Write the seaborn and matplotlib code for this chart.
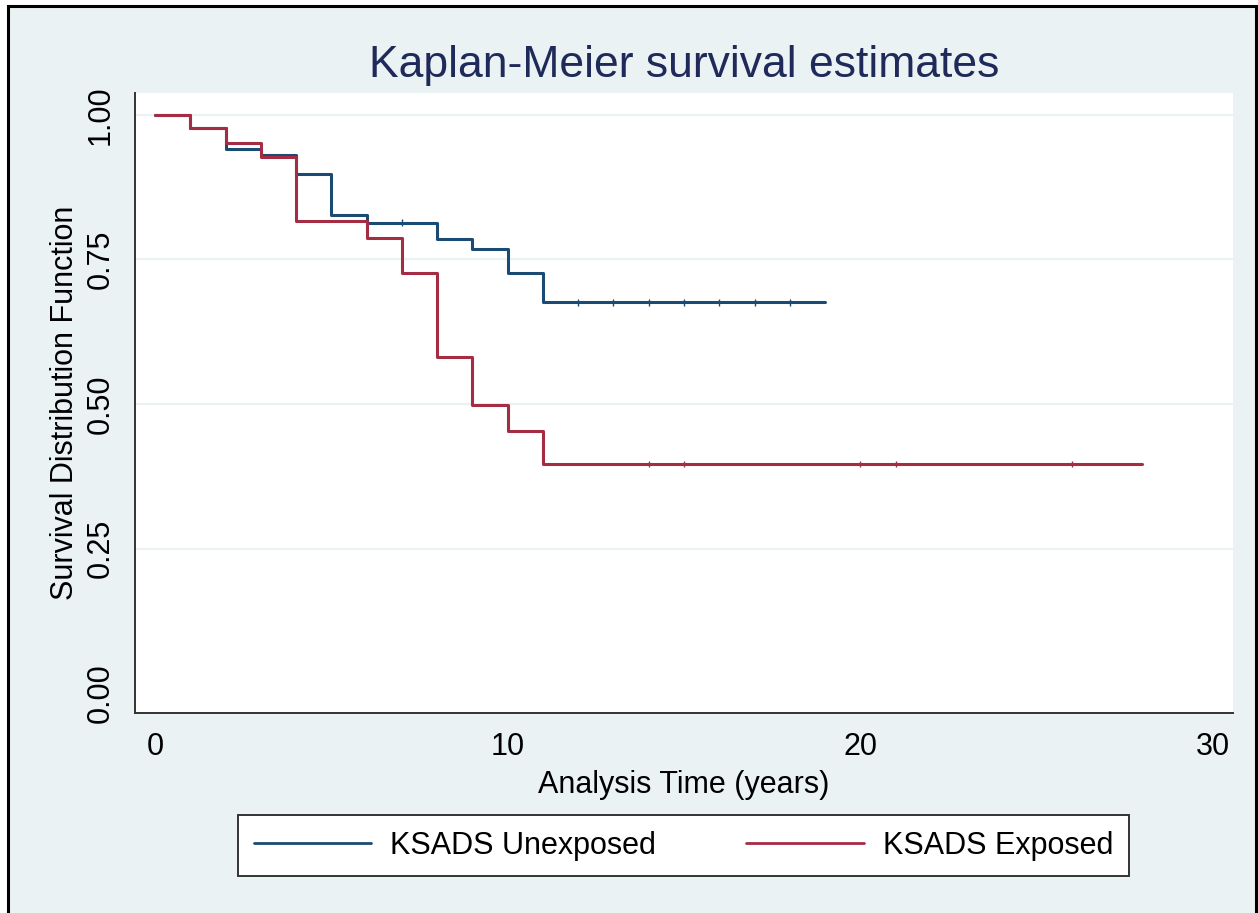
import numpy as np
import pandas as pd
import matplotlib
matplotlib.use("Agg")
import matplotlib.pyplot as plt
from matplotlib.patches import Rectangle
from matplotlib.ticker import StrMethodFormatter
import seaborn as sns

# ---- data ----
groups = ["KSADS Unexposed", "KSADS Exposed"]
unexp_time = [0, 1, 2, 3, 4, 5, 6, 8, 9, 10, 11, 19]
unexp_surv = [1.000, 0.977, 0.941, 0.931, 0.898, 0.827, 0.814, 0.785, 0.768, 0.726, 0.676, 0.676]
unexp_censor = [7, 12, 13, 14, 15, 16, 17, 18]
exp_time = [0, 1, 2, 3, 4, 6, 7, 8, 9, 10, 11, 28]
exp_surv = [1.000, 0.977, 0.952, 0.928, 0.817, 0.788, 0.727, 0.582, 0.499, 0.453, 0.396, 0.396]
exp_censor = [14, 15, 20, 21, 26]
x_ticks = [0, 10, 20, 30]
y_ticks = [0.00, 0.25, 0.50, 0.75, 1.00]
colors = ["#1B4A72", "#A52D43"]

df = pd.concat([
    pd.DataFrame({"time": unexp_time, "surv": unexp_surv, "group": groups[0]}),
    pd.DataFrame({"time": exp_time, "surv": exp_surv, "group": groups[1]}),
], ignore_index=True)


def step_at(times, survs, t):
    idx = np.searchsorted(times, t, side="right") - 1
    return np.asarray(survs)[idx]


cens = pd.concat([
    pd.DataFrame({"time": unexp_censor,
                  "surv": step_at(unexp_time, unexp_surv, unexp_censor), "group": groups[0]}),
    pd.DataFrame({"time": exp_censor,
                  "surv": step_at(exp_time, exp_surv, exp_censor), "group": groups[1]}),
], ignore_index=True)

sns.set_style("white")
plt.rcParams["font.family"] = ["Liberation Sans", "DejaVu Sans"]
plt.rcParams["text.color"] = "black"
plt.rcParams["axes.labelcolor"] = "black"

FS = 22
W, H = 1258, 913
fig = plt.figure(figsize=(W / 100, H / 100), dpi=100, facecolor="white")
bg = "#EAF2F3"
fig.patches.append(Rectangle((8 / W, -0.02), (1256 - 8) / W, 1 - 6 / H + 0.02,
                             transform=fig.transFigure, facecolor=bg,
                             edgecolor="black", linewidth=2.2, zorder=-10))

ax = fig.add_axes([135 / W, (H - 713) / H, (1233 - 135) / W, (713 - 93) / H])
ax.set_facecolor("white")

pal = dict(zip(groups, colors))
sns.lineplot(data=df, x="time", y="surv", hue="group", hue_order=groups, palette=pal,
             drawstyle="steps-post", estimator=None, sort=False, linewidth=2.2,
             legend=False, ax=ax, zorder=3)
sns.scatterplot(data=cens, x="time", y="surv", hue="group", hue_order=groups, palette=pal,
                marker="|", s=22, linewidth=1.0, legend=False, ax=ax, zorder=4)

x_per = (1213 - 155) / 30
ax.set_xlim((135 - 155) / x_per, (1233 - 155) / x_per)
y_per = (693 - 115) / 1.0
ax.set_ylim((693 - 713) / y_per, 1 + (115 - 93) / y_per)

ax.set_xticks(x_ticks)
ax.set_yticks(y_ticks)
ax.yaxis.set_major_formatter(StrMethodFormatter("{x:.2f}"))
ax.tick_params(axis="both", direction="out", length=7, width=1.3, colors="#333333",
               labelcolor="black", labelsize=FS)
ax.tick_params(axis="y", pad=7)
ax.tick_params(axis="x", pad=7)
for lab in ax.get_yticklabels():
    lab.set_rotation(90)
    lab.set_va("center")

ax.yaxis.grid(True, color=bg, linewidth=1.6)
ax.get_ygridlines()[0].set_visible(False)
ax.set_axisbelow(True)

for s in ["top", "right"]:
    ax.spines[s].set_visible(False)
for s in ["left", "bottom"]:
    ax.spines[s].set_color("#333333")
    ax.spines[s].set_linewidth(1.4)

ax.set_xlabel("Analysis Time (years)", fontsize=FS, va="center", color="black")
ax.xaxis.set_label_coords(0.5, (713 - 785) / (713 - 93))
ax.set_ylabel("Survival Distribution Function", fontsize=FS, va="center", color="black")
ax.yaxis.set_label_coords((65 - 135) / (1233 - 135), 0.5)

fig.text(684 / W, 1 - 66 / H, "Kaplan-Meier survival estimates", ha="center", va="center",
         fontsize=32, color="#1F2A5A")

handles = ax.get_lines()[:2]
leg = fig.legend(handles, groups, loc="center", ncol=2,
                 bbox_to_anchor=((238 + 1129) / 2 / W, 1 - (815 + 876) / 2 / H),
                 fontsize=FS, frameon=True, fancybox=False, framealpha=1,
                 edgecolor="#333333", handlelength=3.85, handletextpad=0.62,
                 borderpad=0.5, columnspacing=2.95, borderaxespad=0)
leg.get_frame().set_linewidth(1.4)
for ln in leg.get_lines():
    ln.set_linewidth(2.0)

fig.savefig("out.png", dpi=100, facecolor=fig.get_facecolor())
